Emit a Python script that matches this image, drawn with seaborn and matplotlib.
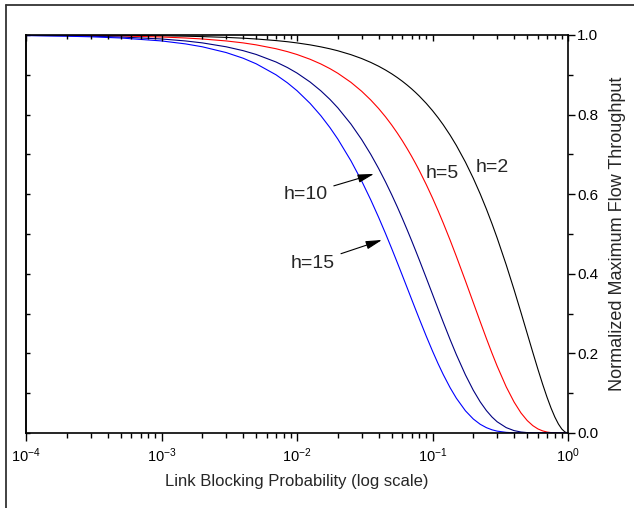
import numpy as np
import pandas as pd
import seaborn as sns
import matplotlib.pyplot as plt
from matplotlib.lines import Line2D
from matplotlib.ticker import LogLocator, MultipleLocator, NullFormatter

# link blocking probability (x) and throughput for each h
p = [1e-4, 2e-4, 3e-4, 5e-4, 1e-3, 1.5e-3, 2e-3, 3e-3, 4e-3, 5e-3,
     7e-3, 8.5e-3, 0.01, 0.0125, 0.015, 0.0175, 0.02, 0.025, 0.03, 0.035,
     0.04, 0.045, 0.05, 0.055, 0.06, 0.065, 0.07, 0.075, 0.08, 0.09,
     0.1, 0.11, 0.12, 0.135, 0.15, 0.175, 0.2, 0.225, 0.25, 0.275,
     0.3, 0.35, 0.4, 0.45, 0.5, 0.55, 0.6, 0.65, 0.7, 0.75,
     0.8, 0.85, 0.9, 0.95, 1.0]
h2 = [0.9998, 0.9996, 0.9994, 0.9990, 0.9980, 0.9970, 0.9960, 0.9940, 0.9920, 0.9900,
      0.9860, 0.9831, 0.9801, 0.9752, 0.9702, 0.9653, 0.9604, 0.9506, 0.9409, 0.9312,
      0.9216, 0.9120, 0.9025, 0.8930, 0.8836, 0.8742, 0.8649, 0.8556, 0.8464, 0.8281,
      0.8100, 0.7921, 0.7744, 0.7482, 0.7225, 0.6806, 0.6400, 0.6006, 0.5625, 0.5256,
      0.4900, 0.4225, 0.3600, 0.3025, 0.2500, 0.2025, 0.1600, 0.1225, 0.0900, 0.0625,
      0.0400, 0.0225, 0.0100, 0.0025, 0.0]
h5 = [0.9995, 0.9990, 0.9985, 0.9975, 0.9950, 0.9925, 0.9900, 0.9851, 0.9802, 0.9752,
      0.9655, 0.9582, 0.9510, 0.9390, 0.9272, 0.9155, 0.9039, 0.8811, 0.8587, 0.8368,
      0.8154, 0.7944, 0.7738, 0.7536, 0.7339, 0.7145, 0.6957, 0.6772, 0.6591, 0.6240,
      0.5905, 0.5584, 0.5277, 0.4843, 0.4437, 0.3822, 0.3277, 0.2796, 0.2373, 0.2003,
      0.1681, 0.1160, 0.0778, 0.0503, 0.0313, 0.0185, 0.0102, 0.0053, 0.0024, 0.0010,
      0.0003, 0.0001, 0.0, 0.0, 0.0]
h10 = [0.9990, 0.9980, 0.9970, 0.9950, 0.9900, 0.9851, 0.9802, 0.9704, 0.9607, 0.9511,
       0.9322, 0.9182, 0.9044, 0.8818, 0.8597, 0.8382, 0.8171, 0.7763, 0.7374, 0.7003,
       0.6648, 0.6310, 0.5987, 0.5680, 0.5386, 0.5106, 0.4840, 0.4586, 0.4344, 0.3894,
       0.3487, 0.3118, 0.2785, 0.2345, 0.1969, 0.1461, 0.1074, 0.0782, 0.0563, 0.0401,
       0.0282, 0.0135, 0.0060, 0.0025, 0.0010, 0.0003, 0.0001, 0.0, 0.0, 0.0,
       0.0, 0.0, 0.0, 0.0, 0.0]
h15 = [0.9985, 0.9970, 0.9955, 0.9925, 0.9851, 0.9777, 0.9704, 0.9559, 0.9417, 0.9276,
       0.9000, 0.8798, 0.8601, 0.8281, 0.7972, 0.7674, 0.7386, 0.6840, 0.6333, 0.5860,
       0.5421, 0.5013, 0.4633, 0.4280, 0.3953, 0.3649, 0.3367, 0.3105, 0.2863, 0.2430,
       0.2059, 0.1741, 0.1470, 0.1136, 0.0874, 0.0558, 0.0352, 0.0219, 0.0134, 0.0080,
       0.0047, 0.0016, 0.0005, 0.0001, 0.0, 0.0, 0.0, 0.0, 0.0, 0.0,
       0.0, 0.0, 0.0, 0.0, 0.0]

labels = ['h=2', 'h=5', 'h=10', 'h=15']
colors = ['black', 'red', '#000080', '#0000ff']

df = pd.concat([pd.DataFrame({'p': p, 'thr': v, 'h': lab})
                for lab, v in zip(labels, [h2, h5, h10, h15])])

sns.set_style('ticks')
plt.rcParams['font.family'] = ['Liberation Sans', 'DejaVu Sans']
plt.rcParams['mathtext.fontset'] = 'custom'
plt.rcParams['mathtext.rm'] = 'Liberation Sans'

fig = plt.figure(figsize=(6.34, 5.08), dpi=100)
pos = [26/634, 1 - 433/508, 542/634, 398/508]
ax = fig.add_axes(pos)

sns.lineplot(data=df, x='p', y='thr', hue='h', palette=dict(zip(labels, colors)),
             estimator=None, linewidth=0.8, legend=False, ax=ax)

ax.set_xscale('log')
ax.set_xlim(1e-4, 1)
ax.set_ylim(0, 1)
for s in ax.spines.values():
    s.set_color('black')
    s.set_linewidth(1.2)

ax.xaxis.set_major_locator(LogLocator(base=10, numticks=10))
ax.xaxis.set_minor_locator(LogLocator(base=10, subs=np.arange(2, 10), numticks=100))
ax.xaxis.set_minor_formatter(NullFormatter())
ax.tick_params(axis='x', which='both', bottom=True, color='black')
ax.tick_params(axis='x', which='major', direction='out', length=6, width=1,
               labelsize=10.5, pad=4, labelcolor='black')
ax.tick_params(axis='x', which='minor', direction='out', length=3.5, width=1)

ax.yaxis.tick_right()
ax.yaxis.set_label_position('right')
ax.yaxis.set_major_locator(MultipleLocator(0.2))
ax.yaxis.set_minor_locator(MultipleLocator(0.1))
ax.yaxis.set_major_formatter(plt.FuncFormatter(lambda v, pos: f'{v:.1f}'))
ax.tick_params(axis='y', which='both', color='black', labelcolor='black')
ax.tick_params(axis='y', which='major', direction='out', length=5, width=1,
               labelsize=11, pad=1.5)
ax.tick_params(axis='y', which='minor', direction='out', length=3.5, width=1)

# mirrored top axis: separate transparent axes, ticks only, pointing inward
top = fig.add_axes(pos, frameon=False)
top.set_xscale('log')
top.set_xlim(1e-4, 1)
top.set_yticks([])
top.xaxis.tick_top()
top.xaxis.set_major_locator(LogLocator(base=10, numticks=10))
top.xaxis.set_minor_locator(LogLocator(base=10, subs=np.arange(2, 10), numticks=100))
top.xaxis.set_minor_formatter(NullFormatter())
top.tick_params(axis='x', which='both', direction='in', top=True, bottom=False,
                labeltop=True, labelbottom=False, labelcolor='none',
                color='black', width=1)
top.tick_params(axis='x', which='major', length=4.5)
top.tick_params(axis='x', which='minor', length=3)

# mirrored left axis, ticks only
left = ax.secondary_yaxis('left')
left.yaxis.set_major_locator(MultipleLocator(0.1))
left.tick_params(which='both', direction='in', left=True, labelleft=False,
                 length=3, width=1, color='black')
left.spines['left'].set_linewidth(1.2)

ax.set_xlabel('Link Blocking Probability (log scale)', fontsize=12, labelpad=6)
ax.set_ylabel('Normalized Maximum Flow Throughput', fontsize=13, labelpad=8)

arrow = dict(arrowstyle='-|>,head_width=0.18,head_length=0.7', color='black',
             lw=0.8, shrinkA=2, shrinkB=0)
ax.text(0.2773, 0.668, 'h=2', fontsize=14, ha='center', va='center')
ax.text(0.1186, 0.651, 'h=5', fontsize=14, ha='center', va='center')
ax.annotate('h=10', xy=(0.037, 0.651), xytext=(0.0169, 0.600), fontsize=14,
            ha='right', va='center', arrowprops=arrow)
ax.annotate('h=15', xy=(0.0424, 0.485), xytext=(0.0191, 0.427), fontsize=14,
            ha='right', va='center', arrowprops=arrow)

# outer frame (left and top edges visible)
fig.add_artist(Line2D([6/634, 6/634], [0, 1 - 5/508], transform=fig.transFigure,
                      color='#333333', lw=1.3))
fig.add_artist(Line2D([6/634, 1], [1 - 5/508, 1 - 5/508], transform=fig.transFigure,
                      color='#333333', lw=1.3))

fig.savefig('out.png', dpi=100)
